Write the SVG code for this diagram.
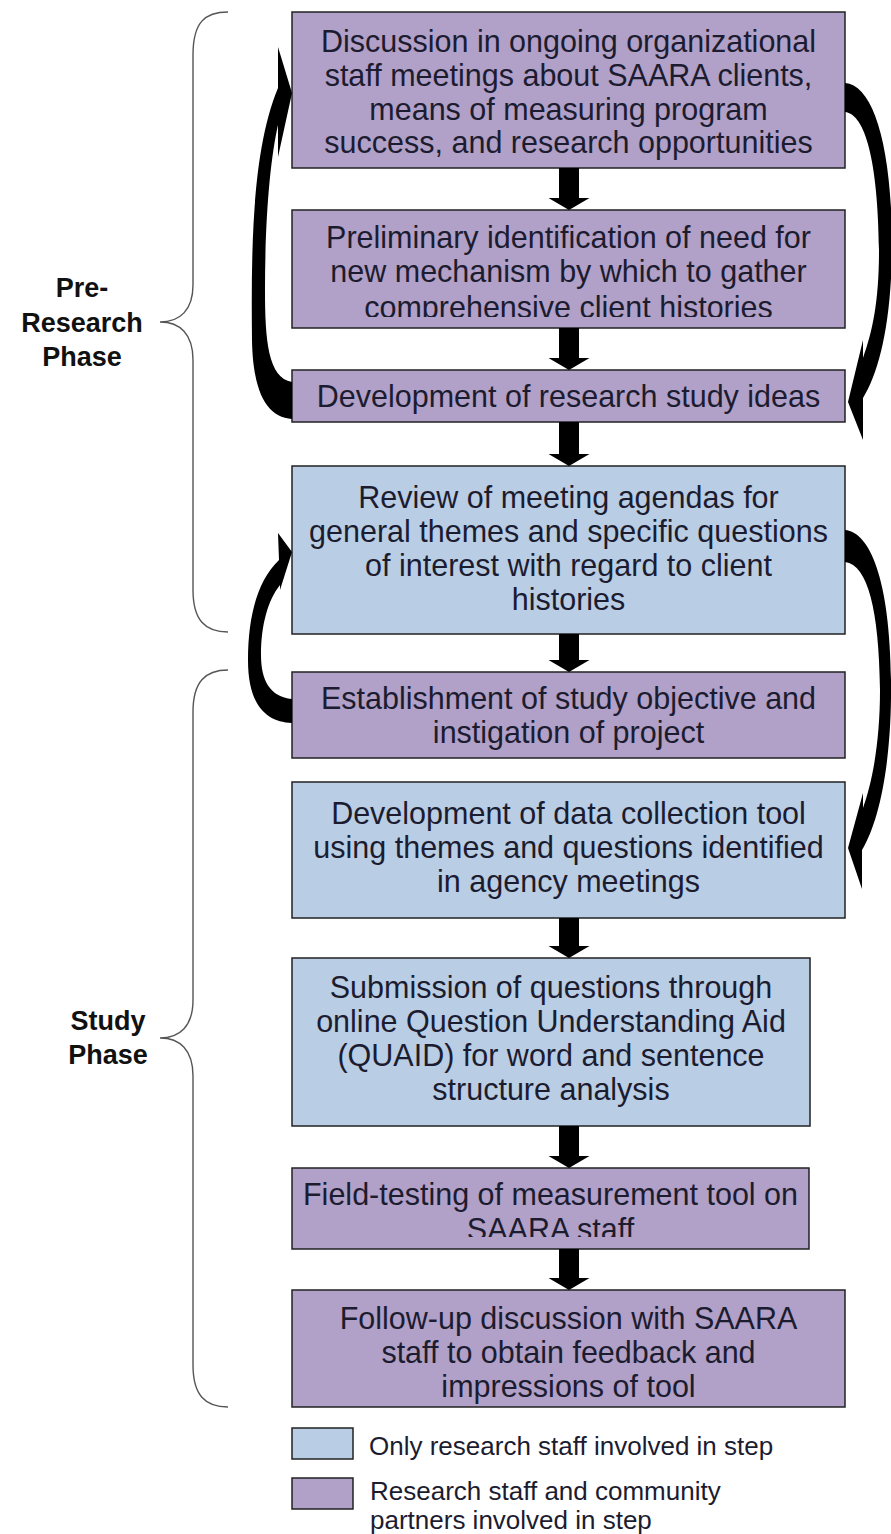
<svg xmlns="http://www.w3.org/2000/svg" width="891" height="1534" viewBox="0 0 891 1534">
<style>
.box{stroke:#222;stroke-width:1.5}
.p{fill:#b1a0c7}
.b{fill:#b9cde5}
.t{font-family:"Liberation Sans",Arial,sans-serif;font-size:30.5px;fill:#1c1c30;text-anchor:middle}
.lab{font-family:"Liberation Sans",Arial,sans-serif;font-size:27px;font-weight:bold;fill:#111;text-anchor:middle}
.lg{font-family:"Liberation Sans",Arial,sans-serif;font-size:26px;fill:#1c1c30}
.brace{fill:none;stroke:#555;stroke-width:1.4}
.arr{fill:#000}
</style>
<defs>
<clipPath id="c2"><rect x="292" y="210" width="553" height="107"/></clipPath>
<clipPath id="c8"><rect x="292" y="1168" width="517" height="69"/></clipPath>
</defs>

<g id="braces">
<path class="brace" d="M228,12 C205,12 193,22 193,55 L193,285 C193,310 180,322 160,322 C180,322 193,334 193,360 L193,590 C193,620 205,632 228,632"/>
<path class="brace" d="M228,670 C205,670 193,682 193,712 L193,1000 C193,1026 180,1038 160,1038 C180,1038 193,1050 193,1076 L193,1365 C193,1395 205,1407 228,1407"/>
</g>

<g id="phase-labels">
<text class="lab" x="82" y="297">Pre-</text>
<text class="lab" x="82" y="332">Research</text>
<text class="lab" x="82" y="366">Phase</text>
<text class="lab" x="108" y="1030">Study</text>
<text class="lab" x="108" y="1064">Phase</text>
</g>

<g id="n1">
<rect class="box p" x="292" y="12" width="553" height="156"/>
<text class="t" x="568.5" y="52">Discussion in ongoing organizational</text>
<text class="t" x="568.5" y="86">staff meetings about SAARA clients,</text>
<text class="t" x="568.5" y="120">means of measuring program</text>
<text class="t" x="568.5" y="153">success, and research opportunities</text>
</g>
<g id="n2">
<rect class="box p" x="292" y="210" width="553" height="118"/>
<g clip-path="url(#c2)">
<text class="t" x="568.5" y="248">Preliminary identification of need for</text>
<text class="t" x="568.5" y="282">new mechanism by which to gather</text>
<text class="t" x="568.5" y="318">comprehensive client histories</text>
</g>
</g>
<g id="n3">
<rect class="box p" x="292" y="370" width="553" height="52"/>
<text class="t" x="568.5" y="407">Development of research study ideas</text>
</g>
<g id="n4">
<rect class="box b" x="292" y="466" width="553" height="168"/>
<text class="t" x="568.5" y="508">Review of meeting agendas for</text>
<text class="t" x="568.5" y="542">general themes and specific questions</text>
<text class="t" x="568.5" y="576">of interest with regard to client</text>
<text class="t" x="568.5" y="610">histories</text>
</g>
<g id="n5">
<rect class="box p" x="292" y="672" width="553" height="86"/>
<text class="t" x="568.5" y="709">Establishment of study objective and</text>
<text class="t" x="568.5" y="743">instigation of project</text>
</g>
<g id="n6">
<rect class="box b" x="292" y="782" width="553" height="136"/>
<text class="t" x="568.5" y="824">Development of data collection tool</text>
<text class="t" x="568.5" y="858">using themes and questions identified</text>
<text class="t" x="568.5" y="892">in agency meetings</text>
</g>
<g id="n7">
<rect class="box b" x="292" y="958" width="518" height="168"/>
<text class="t" x="551" y="998">Submission of questions through</text>
<text class="t" x="551" y="1032">online Question Understanding Aid</text>
<text class="t" x="551" y="1066">(QUAID) for word and sentence</text>
<text class="t" x="551" y="1100">structure analysis</text>
</g>
<g id="n8">
<rect class="box p" x="292" y="1168" width="517" height="81"/>
<g clip-path="url(#c8)">
<text class="t" x="550.5" y="1205">Field-testing of measurement tool on</text>
<text class="t" x="550.5" y="1240">SAARA staff</text>
</g>
</g>
<g id="n9">
<rect class="box p" x="292" y="1290" width="553" height="117"/>
<text class="t" x="568.5" y="1329">Follow-up discussion with SAARA</text>
<text class="t" x="568.5" y="1363">staff to obtain feedback and</text>
<text class="t" x="568.5" y="1397">impressions of tool</text>
</g>

<g id="connectors">
<polygon class="arr" points="559,168 579,168 579,198 589.5,198 569,210 548.5,198 559,198"/>
<polygon class="arr" points="559,328 579,328 579,358 589.5,358 569,370 548.5,358 559,358"/>
<polygon class="arr" points="559,422 579,422 579,454 589.5,454 569,466 548.5,454 559,454"/>
<polygon class="arr" points="559,634 579,634 579,660 589.5,660 569,672 548.5,660 559,660"/>
<polygon class="arr" points="559,918 579,918 579,946 589.5,946 569,958 548.5,946 559,946"/>
<polygon class="arr" points="559,1126 579,1126 579,1156 589.5,1156 569,1168 548.5,1156 559,1156"/>
<polygon class="arr" points="559,1249 579,1249 579,1278 589.5,1278 569,1290 548.5,1278 559,1278"/>
<path class="arr" d="M292,419 C268,417 253,395 252,340 C251,250 252,150 278,88 L278,47 L292,93 L278,157 L278,125 C270,160 265,220 265,290 C265,340 268,378 292,382 Z"/>
<path class="arr" d="M845,83 C872,85 891,140 892,240 C892,320 880,370 863,398 L863,440 L848,402 L863,340 L863,358 C873,330 879,300 879,250 C878,160 865,114 845,112 Z"/>
<path class="arr" d="M292,723 C266,722 248,705 248,660 C248,615 258,580 279,560 L278,533 L292,552 L280,590 L280,585 C268,600 261,625 261,655 C261,680 270,697 292,699 Z"/>
<path class="arr" d="M845,530 C870,532 890,580 891,680 C892,760 880,820 862,850 L862,889 L848,848 L863,793 L863,808 C873,780 880,740 880,690 C879,610 868,565 845,562 Z"/>
</g>

<g id="legend">
<rect class="box b" x="292" y="1428" width="61" height="31"/>
<text class="lg" x="369" y="1455">Only research staff involved in step</text>
<rect class="box p" x="292" y="1478" width="61" height="31"/>
<text class="lg" x="370" y="1500">Research staff and community</text>
<text class="lg" x="370" y="1529">partners involved in step</text>
</g>
</svg>
